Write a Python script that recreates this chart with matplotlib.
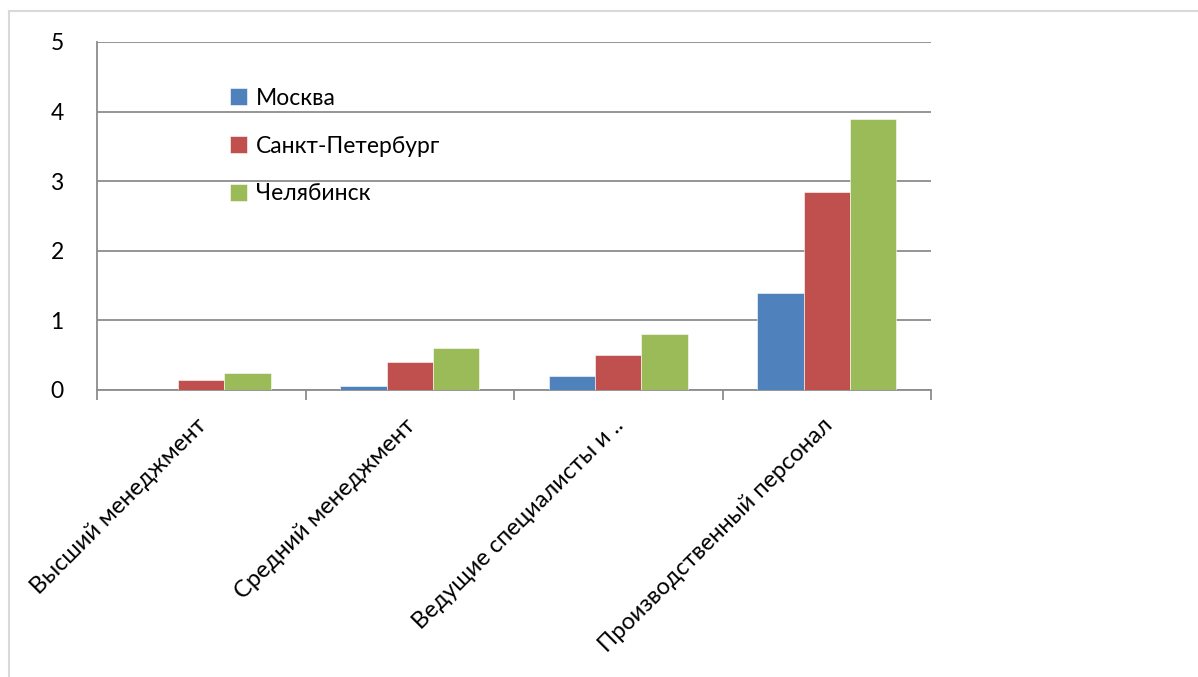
import numpy as np
import matplotlib.pyplot as plt
from matplotlib.lines import Line2D

plt.rcParams['font.family'] = ['Lato', 'DejaVu Sans']

categories = ["Высший менеджмент", "Средний менеджмент",
              "Ведущие специалисты и ..", "Производственный персонал"]
series = ["Москва", "Санкт-Петербург", "Челябинск"]
moscow = [0.0, 0.06, 0.2, 1.4]
spb = [0.15, 0.4, 0.5, 2.85]
chel = [0.25, 0.6, 0.8, 3.9]
colors = ["#4f81bd", "#c0504d", "#9bbb59"]

W, H = 1198, 677
fig = plt.figure(figsize=(W / 100, H / 100), dpi=100)
ax = fig.add_axes([97 / W, 1 - 390 / H, (931 - 97) / W, (390 - 42) / H])

x = np.arange(len(categories))
w = 1 / 4.5
for i, (vals, name) in enumerate(zip([moscow, spb, chel], series)):
    ax.bar(x + (i - 1) * w, vals, width=w, color=colors[i], label=name,
           edgecolor="white", linewidth=0.4, zorder=3)

ax.set_xlim(-0.5, len(categories) - 0.5)
ax.set_ylim(0, 5)
ax.set_yticks(range(6))
ax.grid(axis="y", color="#8c8c8c", linewidth=1.3, zorder=0)
ax.tick_params(axis="y", length=0, pad=24, labelsize=16.5)

# category boundary ticks below the axis
ax.set_xticks(np.arange(-0.5, len(categories), 1))
ax.set_xticklabels([])
ax.tick_params(axis="x", length=7, width=1.3, color="#8c8c8c", direction="out")
for i, c in enumerate(categories):
    ax.text(i + 0.01, -0.46, c, rotation=45, ha="right", va="center",
            rotation_mode="anchor", fontsize=17)

for s in ["top", "right"]:
    ax.spines[s].set_visible(False)
for s in ["left", "bottom"]:
    ax.spines[s].set_color("#8c8c8c")
    ax.spines[s].set_linewidth(1.3)

ax.legend(loc="upper left", bbox_to_anchor=(0.148, 0.895), frameon=False,
          fontsize=16.5, handlelength=0.75, handleheight=0.75, handletextpad=0.4,
          labelspacing=1.17, borderaxespad=0)

# outer chart frame
fig.add_artist(Line2D([9 / W, 9 / W], [0, 1 - 11 / H], color="#d9d9d9", lw=1.5))
fig.add_artist(Line2D([9 / W, 1], [1 - 11 / H, 1 - 11 / H], color="#d9d9d9", lw=1.5))

fig.savefig("out.png", dpi=100)
